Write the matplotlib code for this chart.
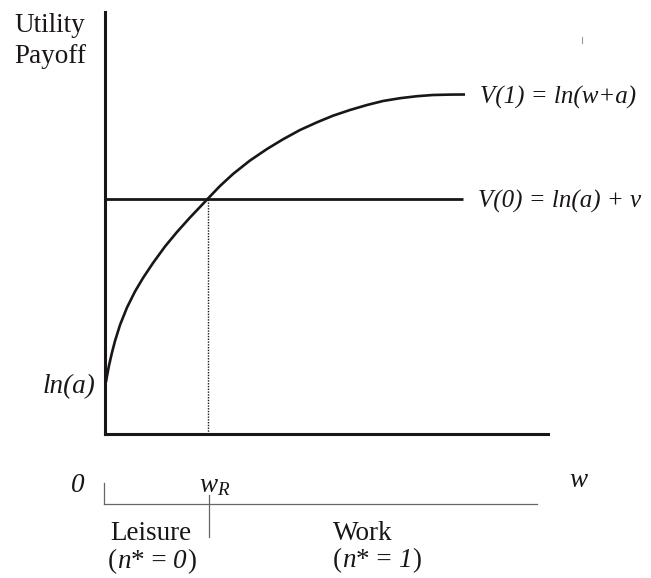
import numpy as np
import matplotlib
matplotlib.use('Agg')
import matplotlib.pyplot as plt

plt.rcParams['font.family'] = ['Liberation Serif', 'DejaVu Serif']
plt.rcParams['mathtext.fontset'] = 'custom'
plt.rcParams['mathtext.rm'] = 'Liberation Serif'
plt.rcParams['mathtext.it'] = 'Liberation Serif:italic'

# values (axis units, origin at the corner of the axes)
w_pts = [1, 2, 4, 7, 10, 15, 22, 30, 38, 48, 60, 72, 85, 95, 103, 115, 128, 145,
         162, 178, 195, 212, 228, 245, 262, 278, 295, 312, 328, 345, 360]
v1_pts = [52, 58, 68.5, 81.5, 93, 109, 126.5, 142.5, 156, 171, 187.5, 202, 216.5,
          227, 235.5, 248, 260, 273.5, 285, 294.7, 304, 311.7, 318.3, 324, 329,
          333, 335.8, 337.8, 339, 339.4, 339.5]
v0_level = 235.5
w_R = 103
w_end = 358
x_max = 443
y_max = 422

W, H = 651, 578
fig = plt.figure(figsize=(W / 100, H / 100), dpi=100)
ax = fig.add_axes([105 / W, (H - 434) / H, x_max / W, y_max / H])
ax.set_xlim(0, x_max)
ax.set_ylim(0, y_max)
for s in ['top', 'right']:
    ax.spines[s].set_visible(False)
for s in ['left', 'bottom']:
    ax.spines[s].set_linewidth(2.2)
    ax.spines[s].set_color('#1a1616')
ax.set_xticks([])
ax.set_yticks([])

col = '#1a1616'
ax.plot(w_pts, v1_pts, color=col, lw=1.9, solid_capstyle='butt',
        solid_joinstyle='round', clip_on=False)
ax.plot([0, w_end], [v0_level, v0_level], color=col, lw=2.0, solid_capstyle='butt')
ax.plot([w_R, w_R], [0, v0_level], color=col, lw=1.0, ls=(0, (1, 1)))

# bracket under the axis
gray = '#666666'
ax.plot([-1, 432], [-70, -70], color=gray, lw=0.9, clip_on=False)
ax.plot([-1, -1], [-49, -70], color=gray, lw=0.9, clip_on=False)
ax.plot([w_R + 1, w_R + 1], [-61, -103], color=gray, lw=0.9, clip_on=False)
ax.plot([477, 477], [391, 397], color='#999999', lw=0.8, clip_on=False)

fs = 19.5
kw = dict(fontsize=fs, color=col)


def mixed(x, y, parts):
    t = ax.text(x, y, parts[0][0], style=parts[0][1], ha='left', va='baseline', **kw)
    for s, st in parts[1:]:
        t = ax.annotate(s, xy=(1, 0), xycoords=t, style=st, ha='left', va='bottom', **kw)


ax.text(-91, 402, 'Utility', ha='left', va='baseline', **kw)
ax.text(-91, 371, 'Payoff', ha='left', va='baseline', **kw)
ax.text(-10, 41, 'ln(a)', style='italic', ha='right', va='baseline', **kw)
ax.text(-27, -58, '0', style='italic', ha='center', va='baseline', **kw)
ax.text(94, -58, '$w_R$', ha='left', va='baseline', **kw)
ax.text(473, -53, 'w', style='italic', ha='center', va='baseline', **kw)
ax.text(375, 330, 'V(1) = ln(w+a)', style='italic', ha='left', va='baseline',
        fontsize=18, color=col)
ax.text(373, 226, 'V(0) = ln(a) + v', style='italic', ha='left', va='baseline',
        fontsize=18, color=col)
ax.text(5, -106, 'Leisure', ha='left', va='baseline', **kw)
mixed(3, -134, [('(', 'normal'), ('n', 'italic'), ('* = ', 'normal'),
                ('0', 'italic'), (')', 'normal')])
ax.text(228, -106, 'Work', ha='left', va='baseline', **kw)
mixed(228, -133, [('(', 'normal'), ('n', 'italic'), ('* = ', 'normal'),
                  ('1', 'italic'), (')', 'normal')])

fig.savefig('out.png', dpi=100)
